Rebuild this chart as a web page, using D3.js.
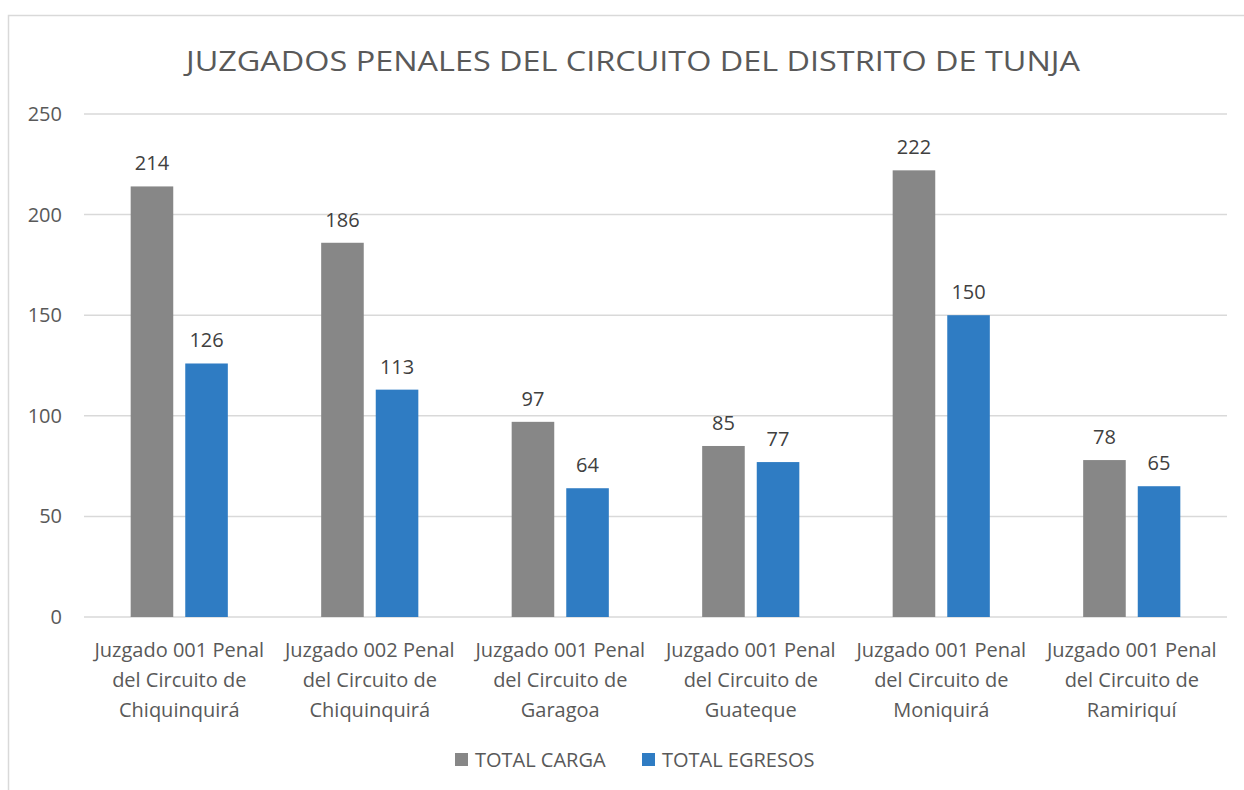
<!DOCTYPE html>
<html>
<head>
<meta charset="utf-8">
<script src="https://cdn.jsdelivr.net/npm/d3@7"></script>
<style>
  body { margin: 0; background: #fff; }
  text { font-family: "Open Sans", Lato, sans-serif; }
</style>
</head>
<body>
<div id="chart"></div>
<script>
// chart data
const categories = [
  ["Juzgado 001 Penal", "del Circuito de", "Chiquinquirá"],
  ["Juzgado 002 Penal", "del Circuito de", "Chiquinquirá"],
  ["Juzgado 001 Penal", "del Circuito de", "Garagoa"],
  ["Juzgado 001 Penal", "del Circuito de", "Guateque"],
  ["Juzgado 001 Penal", "del Circuito de", "Moniquirá"],
  ["Juzgado 001 Penal", "del Circuito de", "Ramiriquí"]
];
const seriesNames = ["TOTAL CARGA", "TOTAL EGRESOS"];
const totalCarga = [214, 186, 97, 85, 222, 78];
const totalEgresos = [126, 113, 64, 77, 150, 65];
const yTicks = [0, 50, 100, 150, 200, 250];
const colors = ["#878787", "#2f7cc3"];

var width = 1244, height = 790;
var margin = {top: 114, right: 17, bottom: 173, left: 84};
var innerwidth = width - margin.left - margin.right;
var innerheight = height - margin.top - margin.bottom;

const svg = d3.select("#chart").append("svg")
    .attr("width", width)
    .attr("height", height);

// outer chart frame
svg.append("rect")
    .attr("x", 8.5).attr("y", 15.5)
    .attr("width", 1250).attr("height", 800)
    .attr("fill", "none")
    .attr("stroke", "#d9d9d9")
    .attr("stroke-width", 1.5);

svg.append("text")
    .attr("x", 633).attr("y", 71)
    .attr("text-anchor", "middle")
    .attr("font-size", "27px")
    .attr("fill", "#595959")
    .attr("textLength", 894)
    .attr("lengthAdjust", "spacingAndGlyphs")
    .text("JUZGADOS PENALES DEL CIRCUITO DEL DISTRITO DE TUNJA");

const g = svg.append("g")
    .attr("transform", "translate(" + margin.left + "," + margin.top + ")");

const idx = d3.range(categories.length);

const x0 = d3.scaleBand()
    .domain(idx)
    .range([0, innerwidth])
    .paddingInner(0.49)
    .paddingOuter(0.245);

const x1 = d3.scaleBand()
    .domain([0, 1])
    .range([0, x0.bandwidth()])
    .paddingInner(0.22);

const y = d3.scaleLinear()
    .domain([0, 250])
    .range([innerheight, 0]);

// gridlines
g.selectAll(".grid")
    .data(yTicks)
    .enter().append("line")
    .attr("x1", 0).attr("x2", innerwidth)
    .attr("y1", d => y(d)).attr("y2", d => y(d))
    .attr("stroke", "#d9d9d9")
    .attr("stroke-width", 1.5);

const yaxisG = g.append("g")
    .call(d3.axisLeft(y).tickValues(yTicks).tickSize(0).tickPadding(22));
yaxisG.select(".domain").remove();
yaxisG.selectAll("text")
    .attr("font-size", "20px")
    .attr("fill", "#595959")
    .style("font-family", "'Open Sans', sans-serif");

const values = [totalCarga, totalEgresos];
const groups = g.selectAll(".grp")
    .data(idx)
    .enter().append("g")
    .attr("transform", i => "translate(" + x0(i) + ",0)");

groups.selectAll("rect")
    .data(i => values.map((s, k) => ({k: k, v: s[i]})))
    .enter().append("rect")
    .attr("x", d => x1(d.k))
    .attr("y", d => y(d.v))
    .attr("width", x1.bandwidth())
    .attr("height", d => innerheight - y(d.v))
    .attr("fill", d => colors[d.k]);

groups.selectAll(".lbl")
    .data(i => values.map((s, k) => ({k: k, v: s[i]})))
    .enter().append("text")
    .attr("x", d => x1(d.k) + x1.bandwidth() / 2)
    .attr("y", d => y(d.v) - 16)
    .attr("text-anchor", "middle")
    .attr("font-size", "20px")
    .attr("fill", "#404040")
    .text(d => d.v);

// category labels, 3 lines each
const xl = g.selectAll(".xl")
    .data(idx)
    .enter().append("text")
    .attr("text-anchor", "middle")
    .attr("font-size", "20px")
    .attr("fill", "#595959")
    .attr("transform", i => "translate(" + (x0(i) + x0.bandwidth() / 2) + "," + (innerheight + 40) + ")");
xl.selectAll("tspan")
    .data(i => categories[i])
    .enter().append("tspan")
    .attr("x", 0)
    .attr("dy", (d, j) => j === 0 ? 0 : 30)
    .text(d => d);

// legend
const legendX = [455, 642];
const lg = svg.selectAll(".legend")
    .data(seriesNames)
    .enter().append("g")
    .attr("transform", (d, i) => "translate(" + legendX[i] + ",753)");
lg.append("rect")
    .attr("width", 13).attr("height", 13)
    .attr("fill", (d, i) => colors[i]);
lg.append("text")
    .attr("x", 20).attr("y", 14)
    .attr("font-size", "20px")
    .attr("fill", "#595959")
    .text(d => d);
</script>
</body>
</html>
